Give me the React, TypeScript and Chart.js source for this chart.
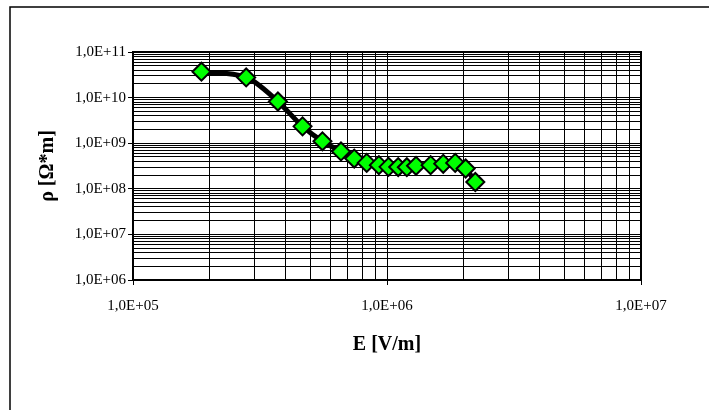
import React, { useEffect, useRef } from "react";
import { Chart, registerables } from "chart.js";

Chart.register(...registerables);

// Data (E in V/m, rho in Ohm*m)
const fieldE = [
  1.86e5, 2.79e5, 3.72e5, 4.65e5, 5.57e5, 6.59e5, 7.43e5, 8.32e5, 9.29e5,
  1.014e6, 1.107e6, 1.197e6, 1.301e6, 1.485e6, 1.665e6, 1.856e6, 2.04e6, 2.227e6,
];
const resistivity = [
  3.7e10, 2.77e10, 8.2e9, 2.34e9, 1.1e9, 6.6e8, 4.6e8, 3.7e8, 3.3e8,
  3.03e8, 3.0e8, 2.98e8, 3.19e8, 3.3e8, 3.53e8, 3.7e8, 2.79e8, 1.41e8,
];

// Axis decades and minor multipliers
const xDecades = [1e5, 1e6, 1e7];
const yDecades = [1e6, 1e7, 1e8, 1e9, 1e10, 1e11];
const minorSteps = [1, 2, 3, 4, 5, 6, 7, 8, 9];

const xTitle = "E [V/m]";
const yTitle = "ρ [Ω*m]";

const FONT = "'Liberation Serif', 'Times New Roman', serif";

function isDecade(v: number | undefined): boolean {
  if (v === undefined || v === null || !(v > 0)) return false;
  const l = Math.log10(v);
  return Math.abs(l - Math.round(l)) < 1e-9;
}

function decadeLabel(v: number): string {
  const e = Math.round(Math.log10(v));
  return "1,0E" + (e < 0 ? "-" : "+") + String(Math.abs(e)).padStart(2, "0");
}

function buildTicks(decades: number[]) {
  const out: { value: number; major: boolean }[] = [];
  decades.forEach((d, i) => {
    if (i === decades.length - 1) {
      out.push({ value: d, major: true });
    } else {
      minorSteps.forEach((m) => out.push({ value: d * m, major: m === 1 }));
    }
  });
  return out;
}

const framePlugin = {
  id: "frame",
  afterDraw(chart: any) {
    const { ctx, chartArea } = chart;
    ctx.save();
    ctx.strokeStyle = "#000";
    ctx.lineWidth = 1.5;
    ctx.beginPath();
    ctx.moveTo(10, 410);
    ctx.lineTo(10, 7);
    ctx.lineTo(709, 7);
    ctx.stroke();
    ctx.lineWidth = 2;
    ctx.beginPath();
    ctx.moveTo(chartArea.left, chartArea.top);
    ctx.lineTo(chartArea.right, chartArea.top);
    ctx.lineTo(chartArea.right, chartArea.bottom);
    ctx.stroke();
    ctx.restore();
  },
};

export default function App() {
  const ref = useRef<HTMLCanvasElement | null>(null);

  useEffect(() => {
    if (!ref.current) return;
    const points = fieldE.map((x, i) => ({ x, y: resistivity[i] }));
    const chart = new Chart(ref.current, {
      type: "line",
      data: {
        datasets: [
          {
            data: points,
            borderColor: "#000",
            borderWidth: 5,
            cubicInterpolationMode: "monotone",
            pointStyle: "rectRot",
            pointRadius: 9,
            pointBorderWidth: 2,
            pointBackgroundColor: "#00FF00",
            pointBorderColor: "#000",
          },
        ],
      },
      options: {
        responsive: false,
        animation: false,
        events: [],
        layout: { padding: { left: 0, top: 52, right: 68, bottom: 0 } },
        plugins: {
          legend: { display: false },
          tooltip: { enabled: false },
        },
        scales: {
          x: {
            type: "logarithmic",
            min: xDecades[0],
            max: xDecades[xDecades.length - 1],
            afterBuildTicks: (scale: any) => {
              scale.ticks = buildTicks(xDecades);
            },
            afterFit: (scale: any) => {
              scale.height = 130;
            },
            ticks: {
              autoSkip: false,
              maxRotation: 0,
              minRotation: 0,
              padding: 12,
              color: "#000",
              font: { family: FONT, size: 15 },
              callback: (v: any) => (isDecade(Number(v)) ? decadeLabel(Number(v)) : ""),
            },
            grid: {
              color: "#000",
              lineWidth: 1,
              tickLength: 5,
              tickColor: (ctx: any) =>
                ctx.tick && isDecade(ctx.tick.value) ? "#000" : "rgba(0,0,0,0)",
            },
            border: { display: true, color: "#000", width: 2 },
            title: {
              display: true,
              text: xTitle,
              color: "#000",
              font: { family: FONT, size: 20, weight: "bold" },
              padding: { top: 0, bottom: 53 },
            },
          },
          y: {
            type: "logarithmic",
            min: yDecades[0],
            max: yDecades[yDecades.length - 1],
            afterBuildTicks: (scale: any) => {
              scale.ticks = buildTicks(yDecades);
            },
            afterFit: (scale: any) => {
              scale.width = 133;
            },
            ticks: {
              autoSkip: false,
              padding: 2,
              color: "#000",
              font: { family: FONT, size: 15 },
              callback: (v: any) => (isDecade(Number(v)) ? decadeLabel(Number(v)) : ""),
            },
            grid: {
              color: "#000",
              lineWidth: 1,
              tickLength: 5,
              tickColor: (ctx: any) =>
                ctx.tick && isDecade(ctx.tick.value) ? "#000" : "rgba(0,0,0,0)",
            },
            border: { display: true, color: "#000", width: 2 },
            title: {
              display: true,
              text: yTitle,
              color: "#000",
              font: { family: FONT, size: 20, weight: "bold" },
              padding: { top: 36, bottom: 0 },
            },
          },
        },
      },
      plugins: [framePlugin],
    } as any);
    return () => chart.destroy();
  }, []);

  return (
    <div style={{ position: "absolute", left: 0, top: 0, width: 709, height: 410, background: "#fff" }}>
      <canvas ref={ref} width={709} height={410} style={{ display: "block", width: 709, height: 410 }} />
    </div>
  );
}
